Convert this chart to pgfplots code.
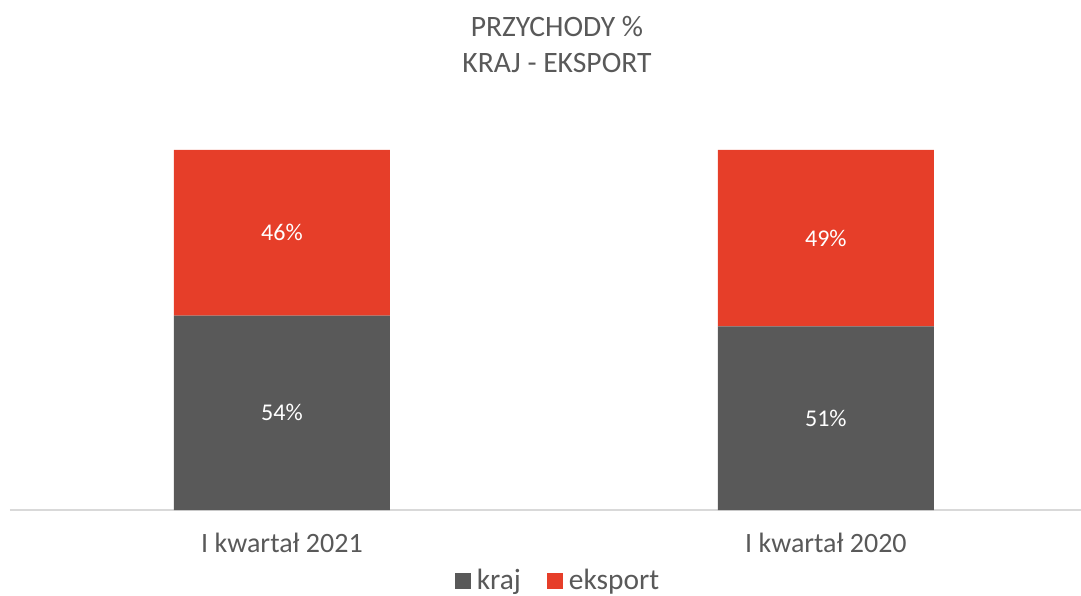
\documentclass[border=0pt]{standalone}
\usepackage{pgfplots}
\pgfplotsset{compat=1.18}
\usepackage{fontspec}
\setmainfont{Carlito}
\definecolor{cgray}{HTML}{595959}
\definecolor{cred}{HTML}{E63E29}
\definecolor{ctext}{HTML}{595959}
\definecolor{caxis}{HTML}{D9D9D9}
\begin{document}
\begin{tikzpicture}
\useasboundingbox (-5pt,-42.5pt) rectangle (535.5pt,255pt);
\begin{axis}[
  at={(0,0)}, anchor=south west,
  scale only axis, width=535.5pt, height=180pt,
  ybar stacked, bar width=108pt,
  xmin=-0.5, xmax=1.469, ymin=0, ymax=100,
  xtick={0,1}, xticklabels={I kwartał 2021, I kwartał 2020},
  xticklabel style={font=\fontsize{14}{16}\selectfont, text=ctext, yshift=-8pt},
  major tick length=0pt,
  ytick=\empty,
  axis x line*=bottom, axis y line=none,
  x axis line style={caxis, line width=1pt, -},
  legend style={at={(0.5135,-0.197)}, anchor=center, draw=none, fill=none,
    legend columns=2, font=\fontsize{14.7}{16}\selectfont, text=ctext,
    /tikz/every even column/.append style={column sep=10pt}},
  legend image code/.code={\fill[#1] (0pt,-4pt) rectangle (8pt,4pt);},
  legend cell align=left,
  legend style={nodes={inner xsep=3pt}},
]
\addplot[fill=cgray, draw=none] coordinates {(0,54) (1,51)};
\addplot[fill=cred, draw=none] coordinates {(0,46) (1,49)};
\legend{kraj, eksport}
\coordinate (l1) at (axis cs:0,27);
\coordinate (l2) at (axis cs:0,77);
\coordinate (l3) at (axis cs:1,25.5);
\coordinate (l4) at (axis cs:1,75.5);
\end{axis}
\node[text=white, font=\fontsize{12}{14}\selectfont] at (l1) {54\%};
\node[text=white, font=\fontsize{12}{14}\selectfont] at (l2) {46\%};
\node[text=white, font=\fontsize{12}{14}\selectfont] at (l3) {51\%};
\node[text=white, font=\fontsize{12}{14}\selectfont] at (l4) {49\%};
\node[text=ctext, font=\fontsize{14.8}{16}\selectfont] at (273.5pt,241.5pt) {PRZYCHODY \%};
\node[text=ctext, font=\fontsize{14.8}{16}\selectfont] at (273.5pt,223.5pt) {KRAJ - EKSPORT};
\end{tikzpicture}
\end{document}
